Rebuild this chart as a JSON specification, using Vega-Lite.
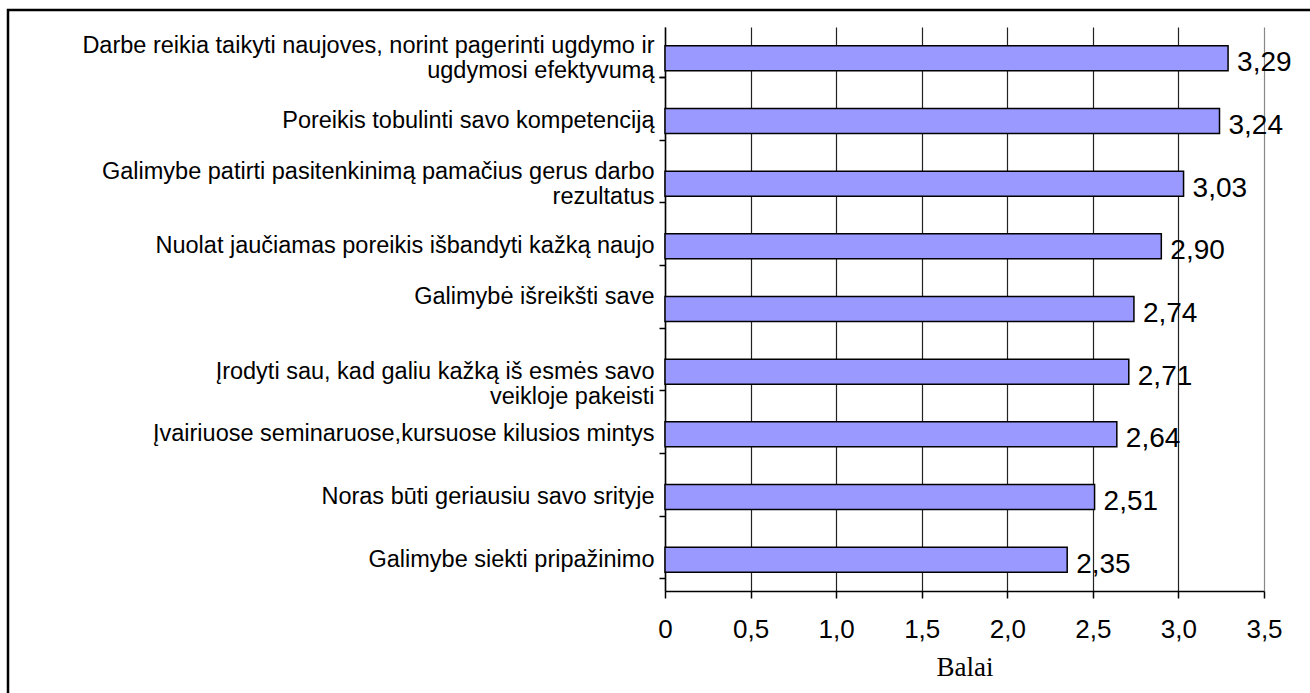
{
  "$schema": "https://vega.github.io/schema/vega-lite/v6.json",
  "width": 1310,
  "height": 690,
  "autosize": "none",
  "padding": {"left": 8, "top": 10, "right": 0, "bottom": 0},
  "background": "white",
  "config": {
    "locale": {"number": {"decimal": ",", "thousands": ".", "grouping": [3], "currency": ["", " €"]}},
    "view": {"stroke": "black", "strokeWidth": 2.5},
    "font": "Liberation Sans"
  },
  "data": {
    "values": [
      {"item": "Darbe reikia taikyti naujoves, norint pagerinti ugdymo ir\nugdymosi efektyvumą", "score": 3.29},
      {"item": "Poreikis tobulinti savo kompetenciją", "score": 3.24},
      {"item": "Galimybe patirti pasitenkinimą pamačius gerus darbo\nrezultatus", "score": 3.03},
      {"item": "Nuolat jaučiamas poreikis išbandyti kažką naujo", "score": 2.90},
      {"item": "Galimybė išreikšti save", "score": 2.74},
      {"item": "Įrodyti sau, kad galiu kažką iš esmės savo\nveikloje pakeisti", "score": 2.71},
      {"item": "Įvairiuose seminaruose,kursuose kilusios mintys", "score": 2.64},
      {"item": "Noras būti geriausiu savo srityje", "score": 2.51},
      {"item": "Galimybe siekti pripažinimo", "score": 2.35}
    ]
  },
  "resolve": {"axis": {"x": "independent", "y": "independent"}, "scale": {"y": "independent"}},
  "layer": [
    {
      "mark": {"type": "point", "opacity": 0, "size": 1},
      "encoding": {
        "y": {
          "field": "item",
          "type": "nominal",
          "sort": null,
          "scale": {"range": [109, 673]},
          "axis": null
        },
        "x": {
          "field": "score",
          "type": "quantitative",
          "scale": {"domain": [0, 3.5], "range": [657, 1256], "nice": false, "zero": true},
          "axis": {
            "orient": "bottom",
            "offset": 0,
            "values": [0, 0.5, 1, 1.5, 2, 2.5, 3, 3.5],
            "grid": true,
            "gridColor": {"condition": {"test": "datum.value === 3.5", "value": "#888888"}, "value": "#222222"},
            "gridWidth": 1.2,
            "labels": false,
            "ticks": false,
            "domain": false,
            "title": null
          }
        }
      }
    },
    {
      "mark": {"type": "bar", "fill": "#9999FF", "stroke": "black", "strokeWidth": 1.5},
      "encoding": {
        "y": {
          "field": "item",
          "type": "nominal",
          "sort": null,
          "scale": {"range": [17, 581], "paddingInner": 0.6, "paddingOuter": 0.3},
          "axis": {
            "orient": "left",
            "offset": -657,
            "title": null,
            "grid": false,
            "domainColor": "black",
            "domainWidth": 1.5,
            "ticks": false,
            "labelFont": "Liberation Sans",
            "labelFontSize": 23.5,
            "labelColor": "black",
            "labelPadding": 11,
            "labelLimit": 800,
            "labelLineHeight": 25,
            "labelOffset": {"condition": {"test": "indexof(datum.value, 'Darbe') === 0 || indexof(datum.value, 'Galimybe patirti') === 0 || datum.value === 'Galimybė išreikšti save'", "value": -12}, "value": 0},
            "labelExpr": "split(datum.label, '\\n')"
          }
        },
        "x": {
          "field": "score",
          "type": "quantitative",
          "axis": {
            "orient": "bottom",
            "offset": -109,
            "values": [0, 0.5, 1, 1.5, 2, 2.5, 3, 3.5],
            "format": ".1f",
            "labelExpr": "datum.value === 0 ? '0' : datum.label",
            "labelFont": "Liberation Sans",
            "labelFontSize": 26,
            "labelColor": "black",
            "labelPadding": 18,
            "labelFlush": false,
            "tickColor": "black",
            "tickSize": 7,
            "tickWidth": 1.5,
            "domainColor": "black",
            "domainWidth": 1.5,
            "grid": false,
            "title": "Balai",
            "titleFont": "Liberation Serif",
            "titleFontSize": 27,
            "titleFontWeight": "normal",
            "titleColor": "black",
            "titlePadding": 12
          }
        }
      }
    },
    {
      "mark": {"type": "text", "align": "left", "baseline": "middle", "dx": 9, "dy": 5, "fontSize": 28, "font": "Liberation Sans", "color": "black"},
      "encoding": {
        "y": {
          "field": "item",
          "type": "nominal",
          "sort": null,
          "scale": {"range": [17, 581], "paddingInner": 0.6, "paddingOuter": 0.3},
          "axis": {
            "orient": "left",
            "offset": -657,
            "title": null,
            "grid": false,
            "domain": false,
            "labels": false,
            "ticks": true,
            "tickColor": "black",
            "tickWidth": 1.5,
            "tickSize": 6,
            "bandPosition": 1,
            "tickOffset": 18.8,
            "tickExtra": true
          }
        },
        "x": {
          "field": "score",
          "type": "quantitative",
          "axis": null
        },
        "text": {"field": "score", "type": "quantitative", "format": ".2f"}
      }
    }
  ]
}
